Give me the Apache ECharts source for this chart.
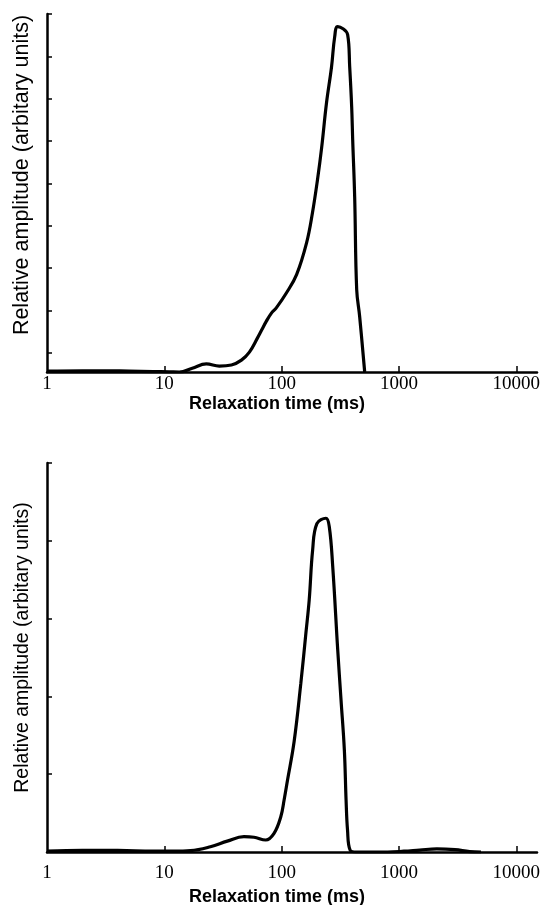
<!DOCTYPE html>
<html>
<head>
<meta charset="utf-8">
<script src="https://cdn.jsdelivr.net/npm/echarts@6/dist/echarts.min.js"></script>
<style>
  html, body { margin: 0; padding: 0; background: #fff; }
  #myChart { width: 547px; height: 905px; }
</style>
</head>
<body>
<div id="myChart"></div>
<script>
// relaxation time (ms) and amplitude
var topTime = [1, 2, 3, 5, 8, 11, 13.4, 17.3, 22.8, 29.4, 37.3, 45.4, 53.1, 62.1, 67.5, 74.1, 81.8, 90.3, 110, 134, 163, 183, 202, 219, 241, 266, 283, 300, 365, 380, 395, 403, 419, 436, 462, 510];
var topAmp = [0.02, 0.03, 0.03, 0.02, 0.01, 0.005, 0, 0.09, 0.19, 0.14, 0.165, 0.28, 0.47, 0.80, 0.99, 1.2, 1.39, 1.52, 1.87, 2.3, 3.05, 3.76, 4.54, 5.29, 6.35, 7.2, 7.91, 8.15, 7.96, 7.2, 6.26, 5.48, 4.13, 1.94, 1.31, 0];

var botTime = [1, 2, 4, 8, 12, 16.7, 24.7, 34.4, 47.7, 58.1, 73.1, 86.1, 98.3, 104.9, 112.2, 127.7, 145.7, 160.8, 171.7, 183.6, 199.6, 238.4, 254.6, 272.3, 300.3, 320.7, 342.2, 353.9, 364.2, 382.7, 430, 800, 1100, 1500, 2100, 3000, 4000, 5000];
var botAmp = [0.01, 0.02, 0.02, 0.01, 0.01, 0.017, 0.068, 0.14, 0.197, 0.19, 0.154, 0.24, 0.454, 0.668, 0.925, 1.42, 2.17, 2.81, 3.24, 3.88, 4.22, 4.29, 4.18, 3.67, 2.60, 1.95, 1.31, 0.668, 0.28, 0.026, 0, 0, 0.01, 0.025, 0.04, 0.03, 0.005, 0];

var xLabels = [1, 10, 100, 1000, 10000];
var xTicks = [10, 100, 1000, 10000];
var topYTicks = [0.45, 1.45, 2.45, 3.45, 4.45, 5.45, 6.45, 7.45, 8.45];
var botYTicks = [1, 2, 3, 4, 5];

var xName = 'Relaxation time (ms)';
var yName = 'Relative amplitude (arbitary units)';

function pairs(xs, ys) {
    var out = [];
    for (var i = 0; i < xs.length; i++) out.push([xs[i], ys[i]]);
    return out;
}

function xAxisOf(gridIndex, labelMargin, nameGap) {
    return {
        type: 'log',
        logBase: 10,
        gridIndex: gridIndex,
        min: 1,
        max: 15000,
        name: xName,
        nameLocation: 'middle',
        nameGap: nameGap,
        nameTextStyle: {
            fontFamily: 'Liberation Sans',
            fontWeight: 'bold',
            fontSize: 18,
            color: '#000',
            padding: [0, 30, 0, 0]
        },
        axisLine: { show: true, onZero: false, lineStyle: { color: '#000', width: 2.5 } },
        axisTick: { show: true, inside: true, length: 6, customValues: xTicks, lineStyle: { color: '#000', width: 1.5 } },
        axisLabel: {
            show: true,
            customValues: xLabels,
            margin: labelMargin,
            fontFamily: 'Liberation Serif',
            fontSize: 19,
            color: '#000',
            formatter: function (v) { return String(Math.round(v)); }
        },
        splitLine: { show: false },
        minorTick: { show: false }
    };
}

function yAxisOf(gridIndex, max, ticks, fontSize, shift) {
    return {
        type: 'value',
        gridIndex: gridIndex,
        min: 0,
        max: max,
        name: yName,
        nameLocation: 'middle',
        nameRotate: 90,
        nameGap: 14,
        nameTextStyle: {
            fontFamily: 'Liberation Sans',
            fontSize: fontSize,
            color: '#000',
            padding: [0, 0, 0, shift]
        },
        axisLine: { show: true, lineStyle: { color: '#000', width: 2.5 } },
        axisTick: { show: true, inside: true, length: 5, customValues: ticks, lineStyle: { color: '#000', width: 1.5 } },
        axisLabel: { show: false },
        splitLine: { show: false }
    };
}

var myChart = echarts.init(document.getElementById('myChart'), null, { renderer: 'canvas' });
var option = {
    backgroundColor: '#fff',
    animation: false,
    grid: [
        { left: 47, top: 14, width: 490, height: 358, outerBoundsMode: 'none' },
        { left: 47, top: 463, width: 490, height: 389, outerBoundsMode: 'none' }
    ],
    xAxis: [
        xAxisOf(0, 3, 14),
        xAxisOf(1, 12, 36)
    ],
    yAxis: [
        yAxisOf(0, 8.45, topYTicks, 21.5, 36),
        yAxisOf(1, 5, botYTicks, 19.5, 20)
    ],
    series: [
        {
            type: 'line',
            xAxisIndex: 0,
            yAxisIndex: 0,
            data: pairs(topTime, topAmp),
            smooth: 0.4,
            showSymbol: false,
            symbol: 'none',
            lineStyle: { color: '#000', width: 3.2 }
        },
        {
            type: 'line',
            xAxisIndex: 1,
            yAxisIndex: 1,
            data: pairs(botTime, botAmp),
            smooth: 0.4,
            showSymbol: false,
            symbol: 'none',
            lineStyle: { color: '#000', width: 3.2 }
        }
    ]
};
myChart.setOption(option);
</script>
</body>
</html>
